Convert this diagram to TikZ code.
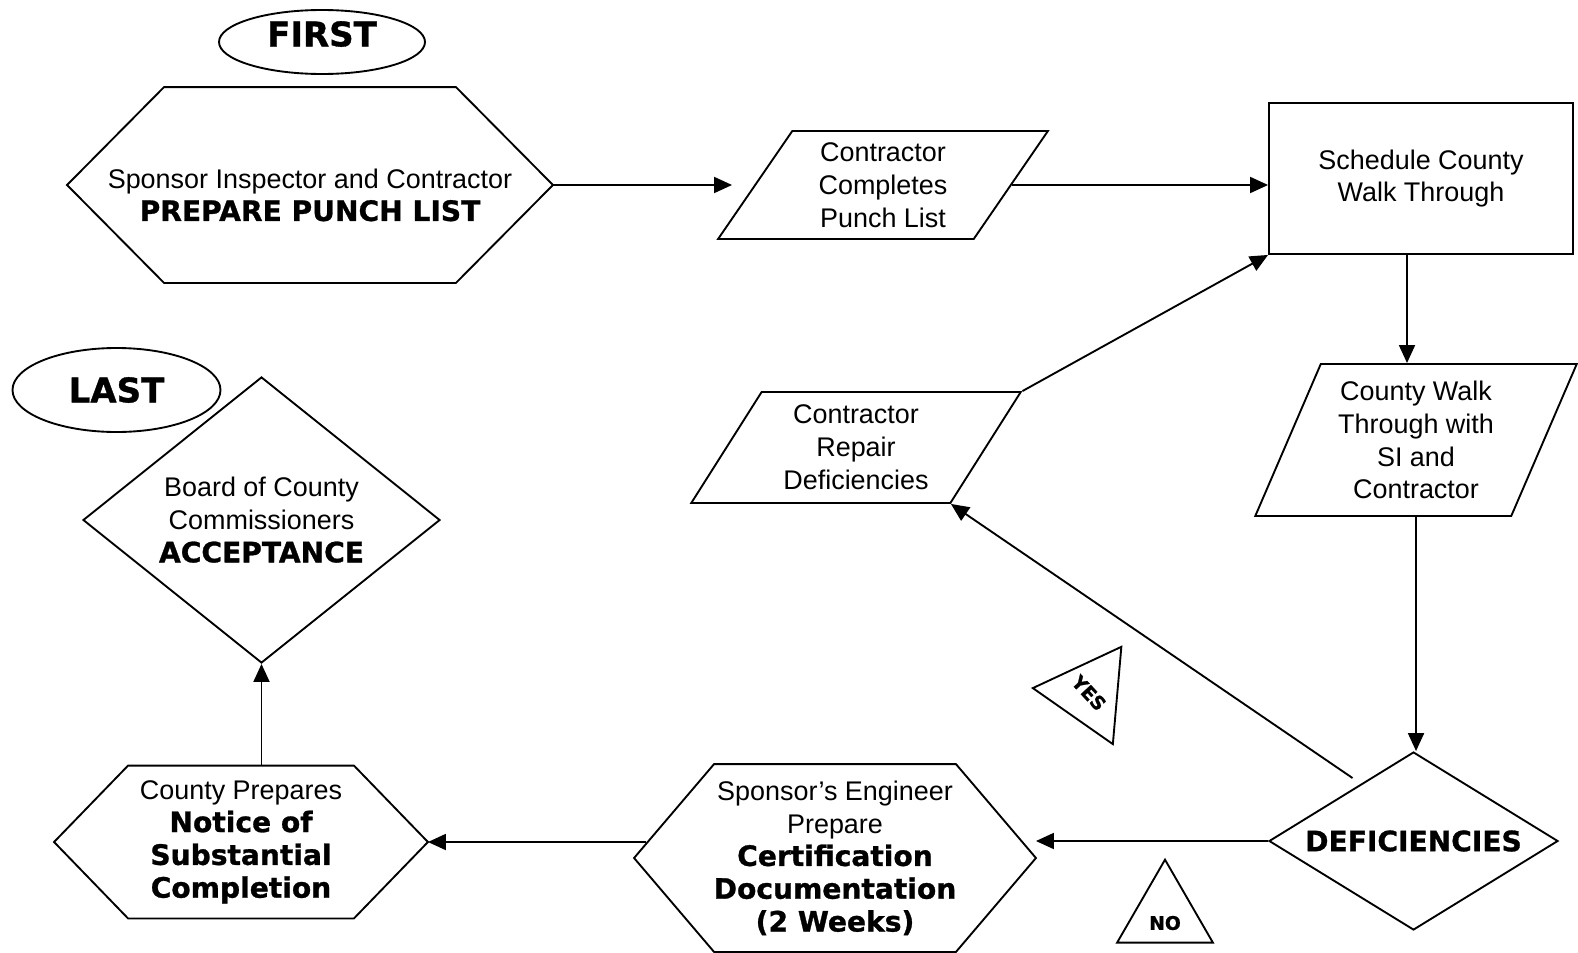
\documentclass[tikz,border=0pt]{standalone}
\usepackage{fontspec}
\setmainfont{Liberation Sans}
\newfontfamily\blkfont{DejaVu Sans}[BoldFeatures={FakeBold=1}]
\usetikzlibrary{shapes.geometric,arrows.meta}
\newcommand{\blk}[1]{{\blkfont\bfseries\fontsize{12}{14}\selectfont #1}}
\newcommand{\pxl}{0.015cm}

\begin{document}
\begin{tikzpicture}[x=\pxl,y=-\pxl,line width=0.8pt,
  every node/.style={font=\fontsize{11.5}{14}\selectfont,align=center},
  >={Triangle[length=0.27cm,width=0.24cm]},
  arr/.style={->},
  bigblk/.style={font=\blkfont\bfseries\fontsize{14.5}{16}\selectfont},
  oval/.style={ellipse,draw,inner sep=0pt,bigblk},
  hexbox/.style 2 args={minimum width=#1*\pxl,minimum height=#2*\pxl,inner sep=0pt},
  para/.style 2 args={trapezium,draw,trapezium stretches=true,
    trapezium left angle=#1,trapezium right angle=#2,inner sep=2pt},
  dia/.style={diamond,draw,inner sep=0pt},
  tri/.style={regular polygon,regular polygon sides=3,draw,inner sep=0pt,
    minimum size=1.66cm,font=\blkfont\bfseries\fontsize{8}{9}\selectfont}]
\useasboundingbox (0,0) rectangle (1578,952);

% start and end marks
\node[oval,minimum width=206*\pxl,minimum height=64*\pxl,
  label={[bigblk,yshift=8*\pxl]center:FIRST}] (first) at (322,42) {};
\node[oval,minimum width=208*\pxl,minimum height=84*\pxl] (last) at (116.5,390) {LAST};

% steps
\node[hexbox={484}{194},
  label={[yshift=-10*\pxl]center:{Sponsor Inspector and Contractor\\\blk{PREPARE PUNCH LIST}}}]
  (punch) at (310,185) {};
\node[para={59}{121},minimum width=330*\pxl,minimum height=108*\pxl] (complete) at (883,185)
  {Contractor\\Completes\\Punch List};
\node[draw,rectangle,minimum width=304*\pxl,minimum height=151*\pxl] (sched) at (1421,178.5)
  {Schedule County\\Walk Through};
\node[para={66}{114},minimum width=322*\pxl,minimum height=152*\pxl] (walk) at (1416,440)
  {County Walk\\Through with\\SI and\\Contractor};
\node[para={58.5}{121.5},minimum width=330*\pxl,minimum height=111*\pxl] (repair) at (856,447.5)
  {Contractor\\Repair\\Deficiencies};
\node[dia,aspect=1.6,minimum width=289*\pxl,minimum height=178*\pxl] (defic) at (1413.5,841)
  {\blk{DEFICIENCIES}};
\node[hexbox={400}{186}] (engr) at (835,858)
  {Sponsor’s Engineer\\Prepare\\\blk{Certification}\\\blk{Documentation}\\\blk{(2 Weeks)}};
\node[hexbox={372}{151}] (notice) at (241,842)
  {County Prepares\\\blk{Notice of}\\\blk{Substantial}\\\blk{Completion}};
\node[dia,aspect=1.25,minimum width=357*\pxl,minimum height=286*\pxl] (board) at (261.5,520)
  {Board of County\\Commissioners\\\blk{ACCEPTANCE}};

% answer marks
\node[tri,rotate=-47,shape border rotate=12] (yes) at (1089,693) {YES};
\node[tri,label={[font=\blkfont\bfseries\fontsize{8}{9}\selectfont,yshift=-8*\pxl]center:NO}] (no) at (1165,915) {};

% hexagon outlines
\foreach \n/\c in {punch/97,engr/80,notice/74}
  \draw (\n.west) -- ([xshift=\c*\pxl]\n.north west) -- ([xshift=-\c*\pxl]\n.north east)
    -- (\n.east) -- ([xshift=-\c*\pxl]\n.south east) -- ([xshift=\c*\pxl]\n.south west) -- cycle;

% connectors
\coordinate (schedfoot) at ([xshift=-14*\pxl]sched.south);
\coordinate (yesfoot) at ([shift={(-61,-63)}]defic.center);
\draw[arr,shorten >=0.33cm] (punch.east) -- (complete.west);
\draw[arr] (complete.east) -- (complete.east -| sched.west);
\draw[arr] (schedfoot) -- (schedfoot |- walk.north);
\draw[arr] (walk.south) -- (walk.south |- defic.north);
\draw[arr] (yesfoot) -- (repair.bottom right corner);
\draw[arr] (repair.top right corner) -- (sched.south west);
\draw[arr] (defic.west) -- (defic.west -| engr.east);
\draw[arr,shorten <=-0.18cm] (engr.west |- notice.east) -- (notice.east);
\draw[arr] (board.south |- notice.north) -- (board.south);
\end{tikzpicture}
\end{document}
